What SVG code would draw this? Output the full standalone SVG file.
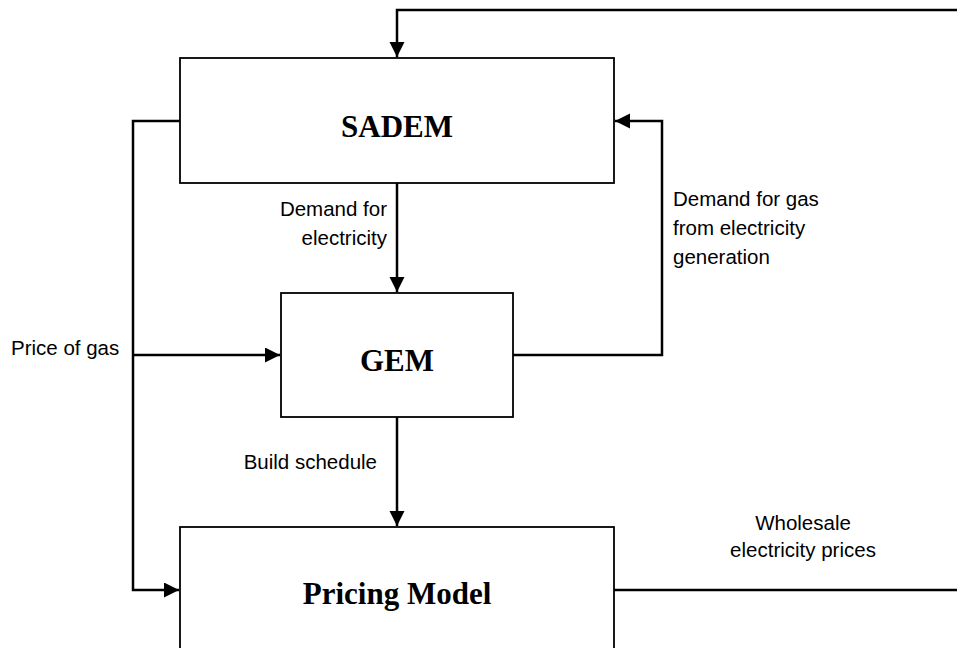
<svg xmlns="http://www.w3.org/2000/svg" width="957" height="648" viewBox="0 0 957 648">
<style>
.box{fill:#fff;stroke:#000;stroke-width:1.8}
.title{font-family:"Liberation Serif","Times New Roman",serif;font-weight:bold;font-size:31px;text-anchor:middle;fill:#000}
.lbl{font-family:"Liberation Sans",Arial,sans-serif;font-size:20.5px;fill:#000}
.conn{fill:none;stroke:#000;stroke-width:2.5}
</style>
<defs>
<marker id="arr" markerUnits="userSpaceOnUse" markerWidth="16" markerHeight="16" refX="15" refY="7.5" orient="auto">
<path d="M0,0 L15,7.5 L0,15 z" fill="#000"/>
</marker>
</defs>
<rect width="957" height="648" fill="#fff"/>
<g id="connectors">
<path class="conn" d="M957,10 H397 V57" marker-end="url(#arr)"/>
<path class="conn" d="M513,355 H662 V121 H615" marker-end="url(#arr)"/>
<path class="conn" d="M180,121 H133 V590 H179" marker-end="url(#arr)"/>
<path class="conn" d="M133,355 H280" marker-end="url(#arr)"/>
<path class="conn" d="M397,183 V292" marker-end="url(#arr)"/>
<path class="conn" d="M397,417 V526" marker-end="url(#arr)"/>
<path class="conn" d="M614,590 H957"/>
</g>
<g id="sadem">
<rect class="box" x="180" y="58" width="434" height="125"/>
<text class="title" x="397" y="137">SADEM</text>
</g>
<g id="gem">
<rect class="box" x="281" y="293" width="232" height="124"/>
<text class="title" x="397" y="371">GEM</text>
</g>
<g id="pricing">
<rect class="box" x="180" y="527" width="434" height="140"/>
<text class="title" x="397" y="604">Pricing Model</text>
</g>
<g id="labels">
<text class="lbl" x="387" y="216" text-anchor="end">Demand for</text>
<text class="lbl" x="387" y="245" text-anchor="end">electricity</text>
<text class="lbl" x="11" y="355">Price of gas</text>
<text class="lbl" x="673" y="206">Demand for gas</text>
<text class="lbl" x="673" y="235">from electricity</text>
<text class="lbl" x="673" y="264">generation</text>
<text class="lbl" x="377" y="469" text-anchor="end">Build schedule</text>
<text class="lbl" x="803" y="530" text-anchor="middle">Wholesale</text>
<text class="lbl" x="803" y="557" text-anchor="middle">electricity prices</text>
</g>
</svg>
